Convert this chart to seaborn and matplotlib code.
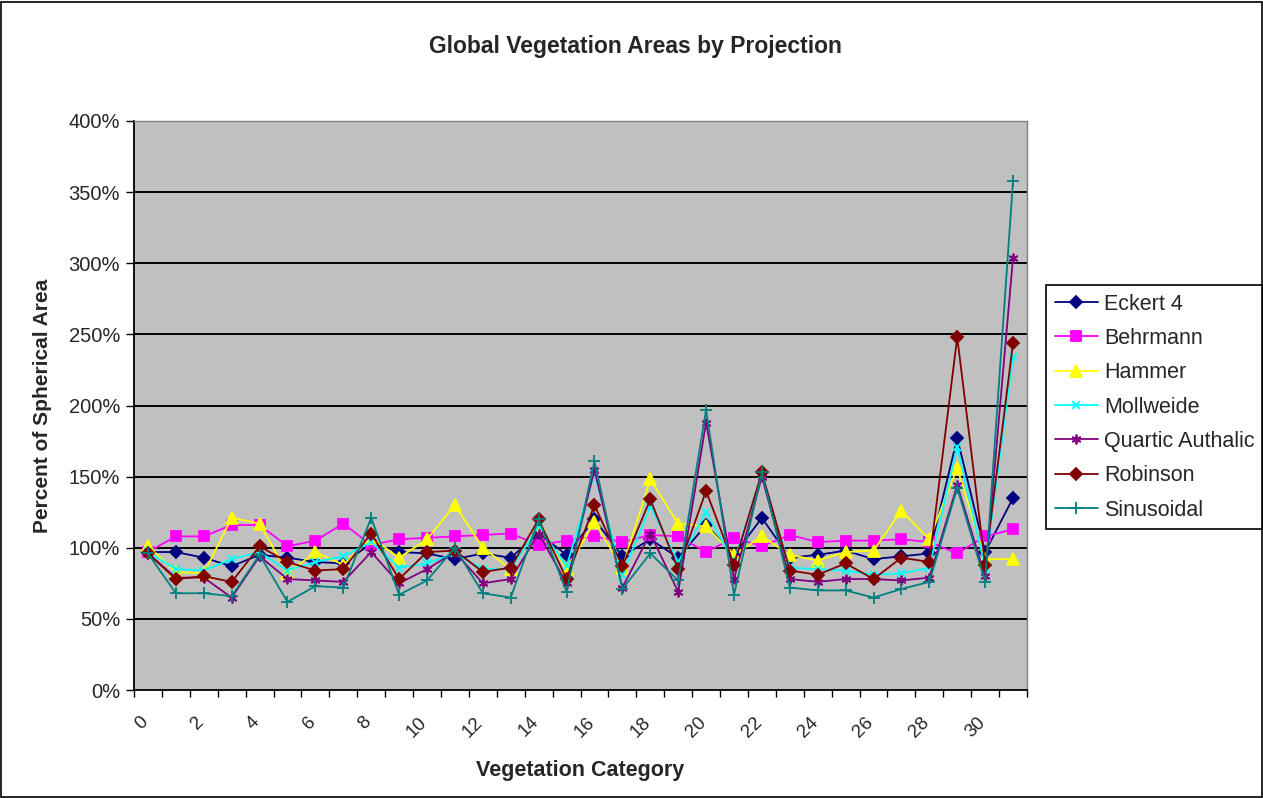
import numpy as np
import pandas as pd
import matplotlib
matplotlib.use("Agg")
import matplotlib.pyplot as plt
import seaborn as sns
from matplotlib.patches import Rectangle

categories = list(range(32))
tick_labels = [str(i) for i in range(0, 31, 2)]

eckert4 = [97, 97, 93, 87, 95, 93, 90, 89, 103, 97, 96, 92, 96, 93, 110, 95,
           120, 94, 106, 93, 116, 95, 121, 93, 95, 98, 92, 94, 96, 177, 97, 135]
behrmann = [97, 108, 108, 116, 116, 101, 105, 117, 102, 106, 107, 108, 109, 110, 102, 105,
            108, 104, 109, 108, 97, 107, 101, 109, 104, 105, 105, 106, 104, 96, 108, 113]
hammer = [101, 83, 82, 121, 117, 82, 97, 88, 107, 93, 106, 130, 100, 85, 115, 85,
          118, 86, 148, 117, 115, 95, 108, 95, 91, 97, 98, 126, 106, 156, 92, 92]
mollweide = [97, 85, 84, 92, 97, 84, 90, 94, 104, 86, 89, 96, 85, 85, 115, 87,
             152, 81, 129, 90, 125, 90, 151, 86, 85, 84, 81, 82, 86, 171, 86, 234]
quartic = [96, 79, 79, 65, 94, 78, 77, 76, 97, 75, 85, 97, 75, 78, 110, 75,
           155, 72, 110, 69, 188, 78, 150, 78, 76, 78, 78, 77, 79, 144, 80, 304]
robinson = [96, 78, 80, 76, 101, 90, 84, 85, 110, 78, 97, 98, 83, 86, 120, 78,
            130, 87, 134, 85, 140, 88, 153, 84, 81, 89, 78, 93, 90, 248, 88, 244]
sinusoidal = [96, 68, 68, 66, 95, 62, 73, 72, 121, 67, 77, 100, 68, 65, 120, 69,
              161, 71, 96, 77, 197, 67, 153, 72, 70, 70, 65, 71, 76, 142, 76, 358]

series = [
    ("Eckert 4", eckert4, "#000080", "D", 6),
    ("Behrmann", behrmann, "#FF00FF", "s", 7),
    ("Hammer", hammer, "#FFFF00", "^", 8),
    ("Mollweide", mollweide, "#00FFFF", "x", 6),
    ("Quartic Authalic", quartic, "#800080", (6, 2, 0), 7),
    ("Robinson", robinson, "#800000", "D", 6),
    ("Sinusoidal", sinusoidal, "#008080", "+", 8),
]

sns.set_theme(style="white")
plt.rcParams['font.family'] = ['Liberation Sans', 'DejaVu Sans']

fig = plt.figure(figsize=(12.63, 7.98), dpi=100)
fig.patch.set_facecolor("white")
ax = fig.add_axes([134/1263, 1 - 690/798, (1027 - 134)/1263, (690 - 121)/798])
ax.set_facecolor("#C0C0C0")

for name, vals, color, marker, ms in series:
    df = pd.DataFrame({"cat": categories, "val": vals})
    sns.lineplot(data=df, x="cat", y="val", ax=ax, color=color, marker=marker,
                 markersize=ms, markeredgecolor=color, markerfacecolor=color,
                 markeredgewidth=1.3, linewidth=1.3, label=name, zorder=3)

ax.set_xlim(-0.5, 31.5)
ax.set_ylim(0, 400)
yt = np.arange(0, 401, 50)
ax.set_yticks(yt)
ax.set_yticklabels([f"{v}%" for v in yt], fontsize=14.5)
for v in yt[1:-1]:
    ax.axhline(v, color="black", linewidth=1.4, zorder=1)

ax.set_xticks(np.arange(-0.5, 32, 1))
ax.set_xticklabels([])
# label anchors sit slightly left of each category centre, as in the original
ax.set_xticks(np.arange(0, 31, 2) - 0.3, minor=True)
ax.set_xticklabels(tick_labels, minor=True, rotation=45, ha="right", va="top",
                   rotation_mode="anchor", fontsize=13.5)
ax.tick_params(axis="x", which="major", direction="out", length=5, width=1, color="black", bottom=True)
ax.tick_params(axis="x", which="minor", length=0, pad=17)
ax.tick_params(axis="y", which="major", direction="out", length=6, width=1, color="black", left=True, pad=4)

for s in ["left", "bottom"]:
    ax.spines[s].set_color("black")
    ax.spines[s].set_linewidth(1.3)
for s in ["top", "right"]:
    ax.spines[s].set_color("#808080")
    ax.spines[s].set_linewidth(1)

ax.set_xlabel("Vegetation Category", fontsize=15.5, fontweight="bold", labelpad=14)
ax.set_ylabel("Percent of Spherical Area", fontsize=15, fontweight="bold", labelpad=12)
fig.text(0.503, 1 - 47/798, "Global Vegetation Areas by Projection", ha="center", va="center",
         fontsize=16.5, fontweight="bold")

leg = ax.legend(loc="upper left", bbox_to_anchor=(1046/1263, 1 - 285/798),
                bbox_transform=fig.transFigure, fontsize=15.5, frameon=True, fancybox=False,
                edgecolor="black", framealpha=1, borderaxespad=0, handlelength=2.0,
                labelspacing=0.62, handletextpad=0.3, borderpad=0.4)
leg.get_frame().set_linewidth(1.2)

fig.patches.append(Rectangle((0.001, 0.001), 0.998, 0.997, transform=fig.transFigure,
                             fill=False, edgecolor="black", linewidth=1.2))

fig.savefig("out.png", dpi=100)
